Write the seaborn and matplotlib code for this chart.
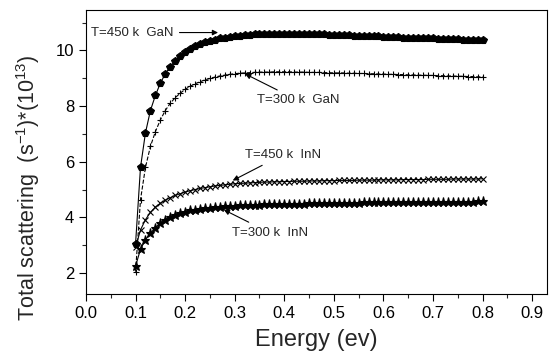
import numpy as np
import pandas as pd
import matplotlib
matplotlib.use("Agg")
import matplotlib.pyplot as plt
from matplotlib.ticker import MultipleLocator
import seaborn as sns

# Energia (ev): 0.10 ... 0.80, passo 0.01
energia = [round(0.10 + 0.01 * i, 2) for i in range(71)]

gan_450 = [3.05, 5.80, 7.04, 7.84, 8.38, 8.82, 9.16, 9.42, 9.62, 9.80,
           9.94, 10.05, 10.14, 10.22, 10.29, 10.34, 10.39, 10.43, 10.46, 10.49,
           10.51, 10.53, 10.55, 10.56, 10.57, 10.58, 10.59, 10.59, 10.60, 10.60,
           10.60, 10.60, 10.60, 10.59, 10.59, 10.58, 10.58, 10.57, 10.57, 10.56,
           10.56, 10.55, 10.54, 10.54, 10.53, 10.52, 10.52, 10.51, 10.50, 10.50,
           10.49, 10.48, 10.48, 10.47, 10.46, 10.46, 10.45, 10.44, 10.44, 10.43,
           10.43, 10.42, 10.41, 10.41, 10.40, 10.40, 10.39, 10.39, 10.38, 10.38,
           10.37]

gan_300 = [2.05, 4.64, 5.80, 6.55, 7.08, 7.50, 7.84, 8.10, 8.30, 8.46,
           8.60, 8.71, 8.80, 8.87, 8.94, 8.99, 9.04, 9.08, 9.11, 9.14,
           9.16, 9.18, 9.19, 9.20, 9.21, 9.22, 9.22, 9.22, 9.23, 9.23,
           9.23, 9.23, 9.22, 9.22, 9.22, 9.21, 9.21, 9.21, 9.20, 9.20,
           9.19, 9.19, 9.19, 9.18, 9.18, 9.17, 9.17, 9.16, 9.16, 9.15,
           9.15, 9.14, 9.14, 9.13, 9.13, 9.12, 9.12, 9.11, 9.11, 9.10,
           9.10, 9.09, 9.09, 9.08, 9.08, 9.07, 9.07, 9.06, 9.06, 9.05,
           9.05]

inn_450 = [2.93, 3.55, 3.92, 4.18, 4.37, 4.51, 4.62, 4.71, 4.79, 4.85,
           4.91, 4.96, 5.00, 5.04, 5.07, 5.10, 5.13, 5.15, 5.17, 5.19,
           5.21, 5.22, 5.23, 5.24, 5.25, 5.26, 5.27, 5.27, 5.28, 5.28,
           5.29, 5.29, 5.30, 5.30, 5.30, 5.31, 5.31, 5.31, 5.32, 5.32,
           5.32, 5.33, 5.33, 5.33, 5.33, 5.34, 5.34, 5.34, 5.34, 5.35,
           5.35, 5.35, 5.35, 5.35, 5.36, 5.36, 5.36, 5.36, 5.36, 5.37,
           5.37, 5.37, 5.37, 5.37, 5.38, 5.38, 5.38, 5.38, 5.38, 5.38,
           5.39]

inn_300 = [2.25, 2.86, 3.20, 3.43, 3.63, 3.80, 3.92, 4.02, 4.10, 4.16,
           4.21, 4.25, 4.28, 4.31, 4.33, 4.35, 4.37, 4.39, 4.40, 4.41,
           4.42, 4.43, 4.44, 4.45, 4.46, 4.46, 4.47, 4.47, 4.48, 4.48,
           4.49, 4.49, 4.50, 4.50, 4.50, 4.51, 4.51, 4.51, 4.52, 4.52,
           4.52, 4.52, 4.53, 4.53, 4.53, 4.53, 4.54, 4.54, 4.54, 4.54,
           4.54, 4.55, 4.55, 4.55, 4.55, 4.55, 4.55, 4.56, 4.56, 4.56,
           4.56, 4.56, 4.56, 4.57, 4.57, 4.57, 4.57, 4.57, 4.57, 4.58,
           4.58]

sns.set_style("ticks")
plt.rcParams['font.family'] = ['Liberation Sans', 'DejaVu Sans']
plt.rcParams['mathtext.fontset'] = 'custom'
plt.rcParams['mathtext.rm'] = 'Liberation Sans'
plt.rcParams['mathtext.it'] = 'Liberation Sans'
plt.rcParams['mathtext.default'] = 'regular'

fig = plt.figure(figsize=(5.49, 3.52), dpi=100)
ax = fig.add_axes([0.1566, 0.1648, 0.8398, 0.8068])

# Séries: (valores, marcador, tamanho, estilo da linha)
series = [
    (gan_450, "p", 6.0, "-"),
    (gan_300, "+", 5.0, "--"),
    (inn_450, "x", 4.5, "-"),
    (inn_300, "*", 6.5, "-"),
]
for valores, marcador, tam, estilo in series:
    sns.lineplot(x=energia, y=valores, ax=ax, color="black", linewidth=0.8,
                 linestyle=estilo, marker=marcador, markersize=tam,
                 markeredgewidth=0.8, markeredgecolor="black",
                 markerfacecolor="black")

ax.set_xlim(0.0, 0.93)
ax.set_ylim(1.25, 11.45)
ax.xaxis.set_major_locator(MultipleLocator(0.1))
ax.xaxis.set_minor_locator(MultipleLocator(0.05))
ax.yaxis.set_major_locator(MultipleLocator(2))
ax.yaxis.set_minor_locator(MultipleLocator(1))
ax.set_xticks(np.arange(0, 0.91, 0.1))
ax.set_xticklabels([f"{v:.1f}" for v in np.arange(0, 0.91, 0.1)])
ax.tick_params(which="major", direction="out", length=5, width=0.8,
               labelsize=12, colors="black")
ax.tick_params(which="minor", direction="out", length=3, width=0.8)
for s in ax.spines.values():
    s.set_linewidth(0.8)
    s.set_color("black")

ax.set_xlabel("Energy (ev)", fontsize=17, labelpad=6)
ax.set_ylabel(r"Total scattering  (s$^{-1}$)*(10$^{13}$)", fontsize=15.5)
ax.yaxis.set_label_coords(-0.095, 0.375)

# Anotações com setas
seta = dict(arrowstyle="-|>", color="black", lw=0.8, mutation_scale=8)
fs = 9.5
ax.annotate("T=450 k  GaN", xy=(0.272, 10.64), xytext=(0.01, 10.64),
            fontsize=fs, va="center", arrowprops=seta)
ax.annotate("T=300 k  GaN", xy=(0.316, 9.20), xytext=(0.345, 8.2),
            fontsize=fs, va="center", arrowprops=seta)
ax.annotate("T=450 k  InN", xy=(0.291, 5.28), xytext=(0.32, 6.25),
            fontsize=fs, va="center", arrowprops=seta)
ax.annotate("T=300 k  InN", xy=(0.273, 4.32), xytext=(0.294, 3.45),
            fontsize=fs, va="center", arrowprops=seta)

fig.savefig("out.png", dpi=100)
